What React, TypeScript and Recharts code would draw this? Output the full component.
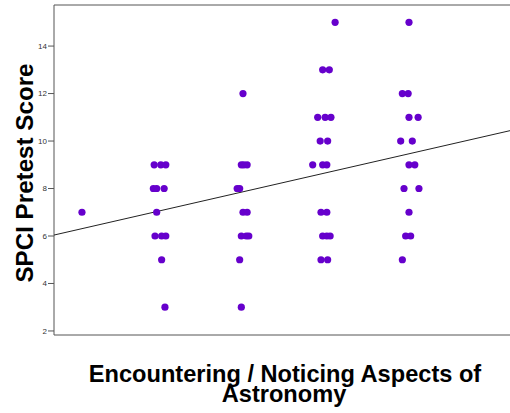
import {
  ScatterChart,
  Scatter,
  XAxis,
  YAxis,
  ReferenceLine,
  Label,
} from "recharts";

// each score sits near its category (1..5), slightly spread so overlaps show
const cat1 = [{ x: 1.06, y: 7 }];

const cat2 = [
  { x: 1.93, y: 9 }, { x: 2.01, y: 9 }, { x: 2.07, y: 9 },
  { x: 1.92, y: 8 }, { x: 1.96, y: 8 }, { x: 2.05, y: 8 },
  { x: 1.96, y: 7 },
  { x: 1.94, y: 6 }, { x: 2.02, y: 6 }, { x: 2.07, y: 6 },
  { x: 2.02, y: 5 },
  { x: 2.06, y: 3 },
];

const cat3 = [
  { x: 3.0, y: 12 },
  { x: 2.98, y: 9 }, { x: 3.01, y: 9 }, { x: 3.05, y: 9 },
  { x: 2.93, y: 8 }, { x: 2.96, y: 8 },
  { x: 3.0, y: 7 }, { x: 3.05, y: 7 },
  { x: 2.98, y: 6 }, { x: 3.04, y: 6 }, { x: 3.07, y: 6 },
  { x: 2.96, y: 5 },
  { x: 2.98, y: 3 },
];

const cat4 = [
  { x: 4.11, y: 15 },
  { x: 3.96, y: 13 }, { x: 4.04, y: 13 },
  { x: 3.9, y: 11 }, { x: 3.99, y: 11 }, { x: 4.06, y: 11 },
  { x: 3.93, y: 10 }, { x: 4.02, y: 10 },
  { x: 3.84, y: 9 }, { x: 3.96, y: 9 }, { x: 4.01, y: 9 },
  { x: 3.94, y: 7 }, { x: 4.01, y: 7 },
  { x: 3.96, y: 6 }, { x: 4.01, y: 6 }, { x: 4.05, y: 6 },
  { x: 3.94, y: 5 }, { x: 4.02, y: 5 },
];

const cat5 = [
  { x: 5.0, y: 15 },
  { x: 4.92, y: 12 }, { x: 4.99, y: 12 },
  { x: 5.0, y: 11 }, { x: 5.11, y: 11 },
  { x: 4.9, y: 10 }, { x: 5.04, y: 10 },
  { x: 5.0, y: 9 }, { x: 5.07, y: 9 },
  { x: 4.94, y: 8 }, { x: 5.12, y: 8 },
  { x: 5.0, y: 7 },
  { x: 4.96, y: 6 }, { x: 5.02, y: 6 },
  { x: 4.92, y: 5 },
];

const fitLine = [
  { x: 0.723, y: 6.04 },
  { x: 6.458, y: 10.63 },
];

const xTicks = [1, 2, 3, 4, 5, 6];
const yTicks = [2, 4, 6, 8, 10, 12, 14];
const xDomain: [number, number] = [0.723, 6.458];
const yDomain: [number, number] = [1.83, 15.73];

const DOT = "#6600cc";
const AXIS = "#555";
const FONT = "'Liberation Sans', Arial, sans-serif";

const allPoints = [...cat1, ...cat2, ...cat3, ...cat4, ...cat5];

const Dot = (p: any) => <circle cx={p.cx} cy={p.cy} r={3.6} fill={DOT} />;

export default function App() {
  return (
    <div
      style={{
        position: "fixed",
        left: 0,
        top: 0,
        width: 510,
        height: 413,
        overflow: "hidden",
        background: "#fff",
        fontFamily: FONT,
      }}
    >
      <ScatterChart
        width={530}
        height={413}
        margin={{ top: 5, right: 0, bottom: 0, left: 0 }}
      >
        <XAxis
          type="number"
          dataKey="x"
          domain={xDomain}
          ticks={xTicks}
          allowDataOverflow
          tick={false}
          tickSize={6}
          height={78}
          axisLine={{ stroke: AXIS }}
          tickLine={{ stroke: AXIS }}
        >
          <Label
            content={() => (
              <text
                textAnchor="middle"
                fontFamily={FONT}
                fontWeight="bold"
                fontSize={23.6}
                fill="#000"
              >
                <tspan x={285} y={382}>Encountering / Noticing Aspects of</tspan>
                <tspan x={284} y={402}>Astronomy</tspan>
              </text>
            )}
          />
        </XAxis>
        <YAxis
          type="number"
          dataKey="y"
          domain={yDomain}
          ticks={yTicks}
          allowDataOverflow
          width={54}
          tickSize={6}
          tickMargin={1}
          tick={{ fontSize: 8, fill: "#333", fontFamily: FONT }}
          axisLine={{ stroke: AXIS }}
          tickLine={{ stroke: AXIS }}
        >
          <Label
            content={(props: any) => {
              const vb = props.viewBox || { y: 5, height: 330 };
              const cy = vb.y + vb.height / 2 + 3;
              return (
                <text
                  x={33}
                  y={cy}
                  transform={`rotate(-90 33 ${cy})`}
                  textAnchor="middle"
                  fontFamily={FONT}
                  fontWeight="bold"
                  fontSize={24.2}
                  fill="#000"
                >
                  SPCI Pretest Score
                </text>
              );
            }}
          />
        </YAxis>
        <ReferenceLine y={yDomain[1]} stroke={AXIS} ifOverflow="visible" />
        <Scatter
          data={fitLine}
          line={{ stroke: "#222", strokeWidth: 1 }}
          shape={() => <g />}
          isAnimationActive={false}
          legendType="none"
        />
        <Scatter
          data={allPoints}
          shape={Dot}
          isAnimationActive={false}
        />
      </ScatterChart>
    </div>
  );
}
